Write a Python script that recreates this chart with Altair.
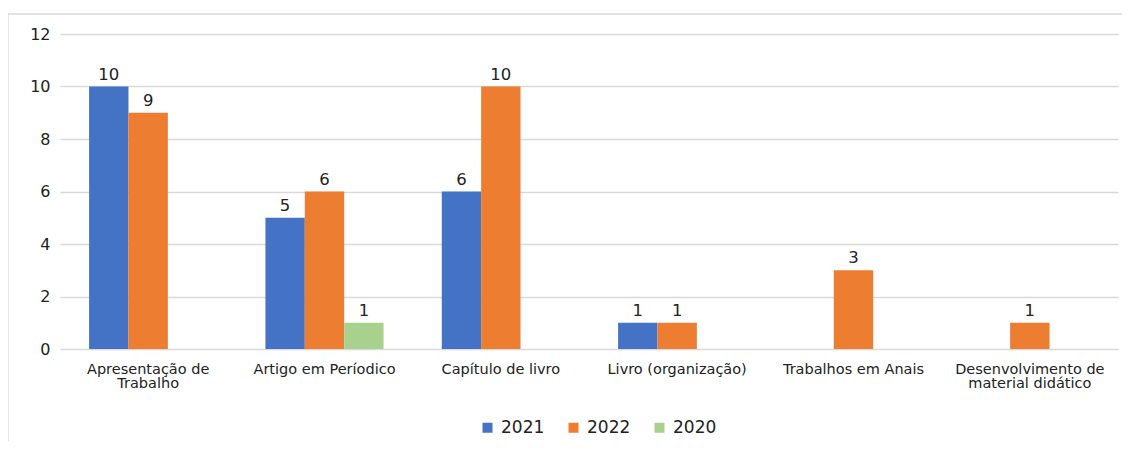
import altair as alt
import pandas as pd

categories = ["Apresentação de|Trabalho", "Artigo em Períodico", "Capítulo de livro",
              "Livro (organização)", "Trabalhos em Anais", "Desenvolvimento de|material didático"]
series = ["2021", "2022", "2020"]
colors = ["#4472C4", "#ED7D31", "#A9D18E"]
v2021 = [10, 5, 6, 1, None, None]
v2022 = [9, 6, 10, 1, 3, 1]
v2020 = [None, 1, None, None, None, None]

rows = []
for s, vals in zip(series, [v2021, v2022, v2020]):
    for c, v in zip(categories, vals):
        if v is not None:
            rows.append({"cat": c, "serie": s, "valor": v})
df = pd.DataFrame(rows)

font = "DejaVu Sans"
base = alt.Chart(df).encode(
    x=alt.X("cat:N", sort=categories, title=None,
            scale=alt.Scale(paddingInner=0.33, paddingOuter=0.165),
            axis=alt.Axis(labelAngle=0, labelExpr="split(datum.label, '|')",
                          labelFontSize=14.5, labelColor="#222", labelFont=font,
                          labelPadding=13, ticks=False, domain=False, labelLineHeight=14)),
    xOffset=alt.XOffset("serie:N", sort=series),
    y=alt.Y("valor:Q", title=None, scale=alt.Scale(domain=[0, 12]),
            axis=alt.Axis(values=[0, 2, 4, 6, 8, 10, 12], labelFontSize=16, labelFont=font,
                          labelColor="#222", labelPadding=10, ticks=False, domain=False,
                          gridColor="#d9d9d9", gridWidth=1.3)),
)

bars = base.mark_bar().encode(
    color=alt.Color("serie:N", sort=series,
                    scale=alt.Scale(domain=series, range=colors),
                    legend=alt.Legend(title=None, orient="none", direction="horizontal",
                                      legendX=419, legendY=385, symbolType="square",
                                      symbolSize=100, symbolStrokeWidth=0,
                                      labelFontSize=17, labelFont=font, labelColor="#222",
                                      columnPadding=20, labelOffset=5))
)
labels = base.mark_text(baseline="bottom", dy=-4, fontSize=16.5, font=font, color="#222").encode(
    text=alt.Text("valor:Q")
)

frame_df = pd.DataFrame({"k": [0]})
top_line = alt.Chart(frame_df).mark_rule(color="#d9d9d9", strokeWidth=1.3).encode(
    x=alt.value(-52), x2=alt.value(1090), y=alt.value(-20))
left_line = alt.Chart(frame_df).mark_rule(color="#d9d9d9", strokeWidth=1.3).encode(
    x=alt.value(-52), y=alt.value(-20), y2=alt.value(440))

chart = alt.layer(top_line, left_line, bars, labels).properties(
    width=1058, height=315,
    padding={"left": 52, "top": 26, "right": 4, "bottom": 92},
    autosize=alt.AutoSizeParams(type="none"),
    background="white",
).configure_view(stroke=None)

chart.save("out.html", embed_options={"renderer": "svg", "actions": False})
